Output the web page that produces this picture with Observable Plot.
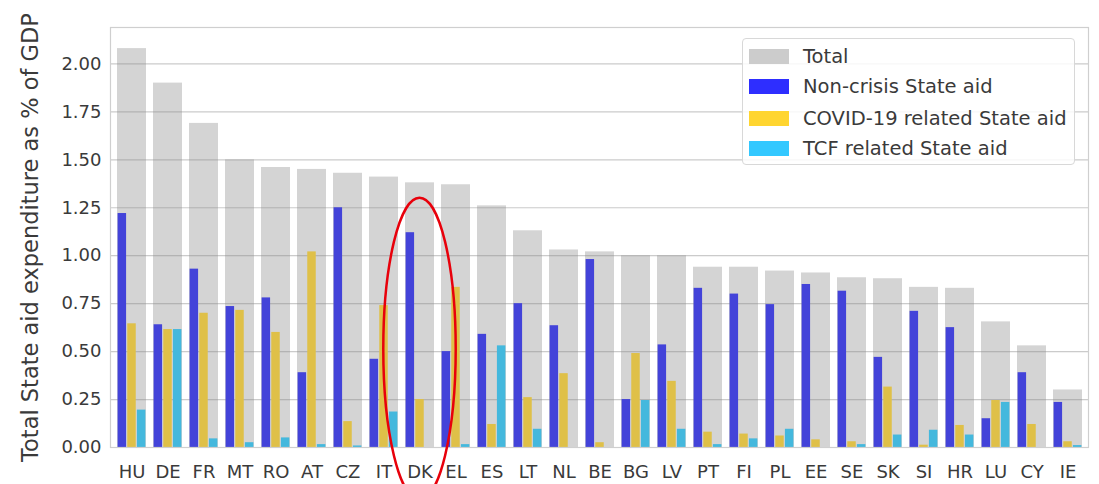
<!DOCTYPE html>
<html>
<head>
<meta charset="utf-8">
<script src="https://cdn.jsdelivr.net/npm/d3@7"></script>
<script src="https://cdn.jsdelivr.net/npm/@observablehq/plot@0.6"></script>
<style>
  html, body { margin: 0; padding: 0; background: #fff; }
  #wrap { position: relative; width: 1099px; height: 484px; font-family: "DejaVu Sans", Verdana, sans-serif; }
  #legend { position: absolute; left: 742px; top: 38px; width: 333px; height: 127px;
    border: 1px solid #d8d8d8; border-radius: 4px; background: rgba(255,255,255,0.85); box-sizing: border-box; }
  .row { position: absolute; left: 6px; height: 20px; display: flex; align-items: center; }
  .sw { width: 40px; height: 15px; margin-right: 14px; }
  .lab { font-size: 19.5px; color: #3a3a3a; white-space: nowrap; }
</style>
</head>
<body>
<div id="wrap"></div>
<script>
const countries = ["HU","DE","FR","MT","RO","AT","CZ","IT","DK","EL","ES","LT","NL","BE","BG","LV","PT","FI","PL","EE","SE","SK","SI","HR","LU","CY","IE"];
const total     = [2.08,1.90,1.69,1.50,1.46,1.45,1.43,1.41,1.38,1.37,1.26,1.13,1.03,1.02,1.00,1.00,0.94,0.94,0.92,0.91,0.885,0.88,0.835,0.83,0.655,0.53,0.30];
const nonCrisis = [1.22,0.64,0.93,0.735,0.78,0.39,1.25,0.46,1.12,0.50,0.59,0.75,0.635,0.98,0.25,0.535,0.83,0.80,0.745,0.85,0.815,0.47,0.71,0.625,0.15,0.39,0.235];
const covid     = [0.645,0.615,0.70,0.715,0.60,1.02,0.135,0.74,0.25,0.835,0.12,0.26,0.385,0.025,0.49,0.345,0.08,0.07,0.06,0.04,0.03,0.315,0.012,0.115,0.245,0.12,0.03];
const tcf       = [0.195,0.615,0.045,0.025,0.05,0.015,0.008,0.185,0,0.015,0.53,0.095,0,0,0.245,0.095,0.015,0.045,0.095,0,0.015,0.065,0.09,0.065,0.235,0,0.01];
const yTicks = [0,0.25,0.5,0.75,1.0,1.25,1.5,1.75,2.0];
const seriesNames = ["Total","Non-crisis State aid","COVID-19 related State aid","TCF related State aid"];
const legendColors = ["#cccccc","#2e2eff","#ffd530","#33c8ff"];
const barColors = ["#d4d4d4","#4343d9","#dfc048","#44b8dd"];
const yLabel = "Total State aid expenditure as % of GDP";
const highlightCountry = "DK";
const highlightTop = 1.30;

const rows = countries.map((c, i) => ({country: c, total: total[i], nonCrisis: nonCrisis[i], covid: covid[i], tcf: tcf[i]}));

const W = 1099, H = 484, ML = 110, MR = 11, MT = 27, MB = 37;
const step = (W - ML - MR) / countries.length;
const bw = step * 0.8;
const sub = bw / 3;
const g = 0.6;

const chart = Plot.plot({
  width: W, height: H,
  marginLeft: ML, marginRight: MR, marginTop: MT, marginBottom: MB,
  style: {fontFamily: "DejaVu Sans, Verdana, sans-serif", fontSize: "18px", color: "#3a3a3a", background: "#fff", overflow: "hidden"},
  x: {domain: countries, paddingInner: 0.2, paddingOuter: 0.1, label: null, tickSize: 0, tickPadding: 18},
  y: {domain: [0, 2.19], ticks: yTicks, tickFormat: d3.format(".2f"), label: null, tickSize: 0, tickPadding: 9},
  marks: [
    Plot.barY(rows, {x: "country", y: "total", fill: barColors[0]}),
    Plot.ruleY(yTicks, {stroke: "#8c8c8c", strokeOpacity: 0.45, strokeWidth: 1.2}),
    Plot.barY(rows, {x: "country", y: "nonCrisis", fill: barColors[1], insetLeft: g, insetRight: 2 * sub + g}),
    Plot.barY(rows, {x: "country", y: "covid", fill: barColors[2], insetLeft: sub + g, insetRight: sub + g}),
    Plot.barY(rows, {x: "country", y: "tcf", fill: barColors[3], insetLeft: 2 * sub + g, insetRight: g}),
    Plot.frame({stroke: "#cfcfcf", strokeWidth: 1.2}),
    Plot.text([yLabel], {frameAnchor: "left", text: d => d, rotate: -90, dx: -80, textAnchor: "middle", fontSize: 22.5, fill: "#3a3a3a"})
  ]
});

const wrap = document.getElementById("wrap");
wrap.appendChild(chart);

// red highlight ellipse around the highlighted country, positioned through the chart's scales
const xScale = chart.scale("x"), yScale = chart.scale("y");
const ellCx = xScale.apply(highlightCountry) + (xScale.bandwidth || 0) / 2;
const ellTop = yScale.apply(highlightTop);
const ellRx = step, ellRy = 151;
d3.select(chart).append("ellipse")
  .attr("cx", ellCx).attr("cy", ellTop + ellRy)
  .attr("rx", ellRx).attr("ry", ellRy)
  .attr("fill", "none").attr("stroke", "#e8000b").attr("stroke-width", 2.5);

const legend = document.createElement("div");
legend.id = "legend";
const rowTops = [7, 37, 69, 99];
seriesNames.forEach((name, i) => {
  const r = document.createElement("div");
  r.className = "row";
  r.style.top = rowTops[i] + "px";
  const sw = document.createElement("div");
  sw.className = "sw";
  sw.style.background = legendColors[i];
  const lab = document.createElement("span");
  lab.className = "lab";
  lab.textContent = name;
  r.appendChild(sw); r.appendChild(lab);
  legend.appendChild(r);
});
wrap.appendChild(legend);
</script>
</body>
</html>
